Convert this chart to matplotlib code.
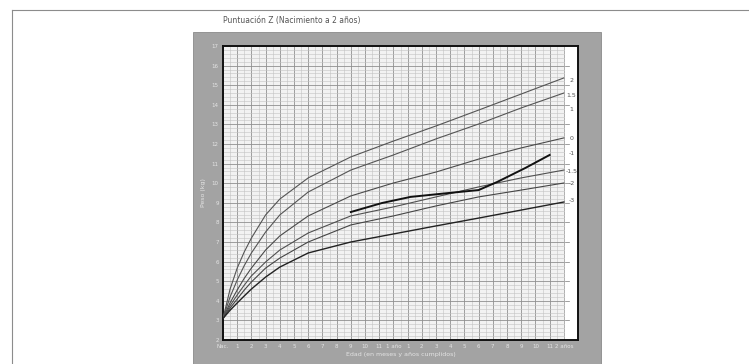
import matplotlib.pyplot as plt
import numpy as np
from matplotlib.patches import Rectangle

# months of age and weight (kg) for each reference z-score curve
months = [0, 0.5, 1, 1.5, 2, 3, 4, 6, 9, 12, 15, 18, 21, 24]
z_p2 = [3.1, 4.6, 5.67, 6.5, 7.2, 8.38, 9.19, 10.27, 11.34, 12.15, 12.92, 13.73, 14.55, 15.37]
z_p15 = [3.1, 4.2, 5.06, 5.8, 6.44, 7.51, 8.38, 9.55, 10.67, 11.44, 12.26, 13.02, 13.84, 14.6]
z_0 = [3.1, 3.9, 4.55, 5.15, 5.67, 6.59, 7.31, 8.33, 9.35, 10.01, 10.57, 11.23, 11.8, 12.31]
z_m15 = [3.1, 3.75, 4.3, 4.8, 5.27, 5.98, 6.59, 7.46, 8.33, 8.79, 9.3, 9.81, 10.27, 10.67]
z_m2 = [3.1, 3.63, 4.09, 4.55, 4.96, 5.67, 6.18, 7.0, 7.87, 8.33, 8.84, 9.3, 9.65, 10.01]
z_m3 = [3.1, 3.52, 3.89, 4.25, 4.6, 5.21, 5.72, 6.44, 7.0, 7.41, 7.82, 8.22, 8.63, 9.04]

# patient measurements
pat_months = [9.0, 11.2, 13.2, 15.9, 18.0, 19.3, 21.3, 23.0]
pat_weight = [8.53, 8.99, 9.3, 9.5, 9.65, 10.06, 10.78, 11.44]

strip_labels = ["2", "1.5", "1", "0", "-1", "-1.5", "-2", "-3"]
strip_y = [15.25, 14.5, 13.75, 12.3, 11.5, 10.6, 10.0, 9.1]

title = "Puntuación Z (Nacimiento a 2 años)"

fig = plt.figure(figsize=(7.49, 3.64), dpi=100)
fig.patch.set_facecolor("white")

# scan border lines
fig.add_artist(plt.Line2D([12 / 749, 1], [0.9725, 0.9725], color="#8c8c8c", lw=0.8))
fig.add_artist(plt.Line2D([12 / 749, 12 / 749], [0, 0.9725], color="#8c8c8c", lw=0.8))

# gray frame around the chart
fig.add_artist(Rectangle((193 / 749, 0), 408 / 749, 332 / 364,
                         transform=fig.transFigure, facecolor="#a3a3a3",
                         edgecolor="#8a8a8a", lw=0.6, zorder=0))

fig.text(223 / 749, 1 - 21 / 364, title, fontsize=5.5, color="#555555",
         va="center", ha="left")

ax = fig.add_axes([223 / 749, 24 / 364, 355 / 749, 294 / 364])
ax.set_facecolor("#f2f2f2")
ax.set_xlim(0, 25)
ax.set_ylim(2, 17)

# dense grid
ax.set_xticks(np.arange(0, 25.01, 0.5), minor=True)
ax.set_yticks(np.arange(2, 17.01, 0.2), minor=True)
ax.set_yticks(range(2, 18, 1))
ax.grid(which="minor", color="#c2c2c2", lw=0.4)
ax.grid(which="major", color="#8f8f8f", lw=0.6)
ax.set_axisbelow(True)

xlabels = ["Nac."] + [str(i) for i in range(1, 12)] + ["1 año"] + [str(i) for i in range(1, 12)] + ["2 años"]
ax.set_xticks(range(0, 25), xlabels)
ax.tick_params(axis="both", which="both", length=0, labelsize=4, labelcolor="#e4e4e4", pad=3)
ax.set_xlabel("Edad (en meses y años cumplidos)", fontsize=4.5, color="#e4e4e4", labelpad=2)
ax.set_ylabel("Peso (kg)", fontsize=4.5, color="#e4e4e4", labelpad=4)

# white label strip on the right
ax.axvspan(24.1, 25, color="white", zorder=1.5)
for yy in range(3, 17):
    ax.plot([24.1, 24.35], [yy, yy], color="#777777", lw=0.5, zorder=1.6)

for vals, c, lw in [(z_p2, "#555555", 0.8), (z_p15, "#555555", 0.8),
                    (z_0, "#4a4a4a", 0.8), (z_m15, "#505050", 0.8),
                    (z_m2, "#454545", 0.8), (z_m3, "#222222", 1.0)]:
    ax.plot(months, vals, color=c, lw=lw, zorder=3)

ax.plot(pat_months, pat_weight, color="#111111", lw=1.4, zorder=4)

for lab, yy in zip(strip_labels, strip_y):
    ax.text(24.55, yy, lab, fontsize=4.5, color="#555555", ha="center", va="center", zorder=5)

for s in ax.spines.values():
    s.set_color("#111111")
    s.set_linewidth(1.4)

fig.savefig("out.png", dpi=100, facecolor="white")
